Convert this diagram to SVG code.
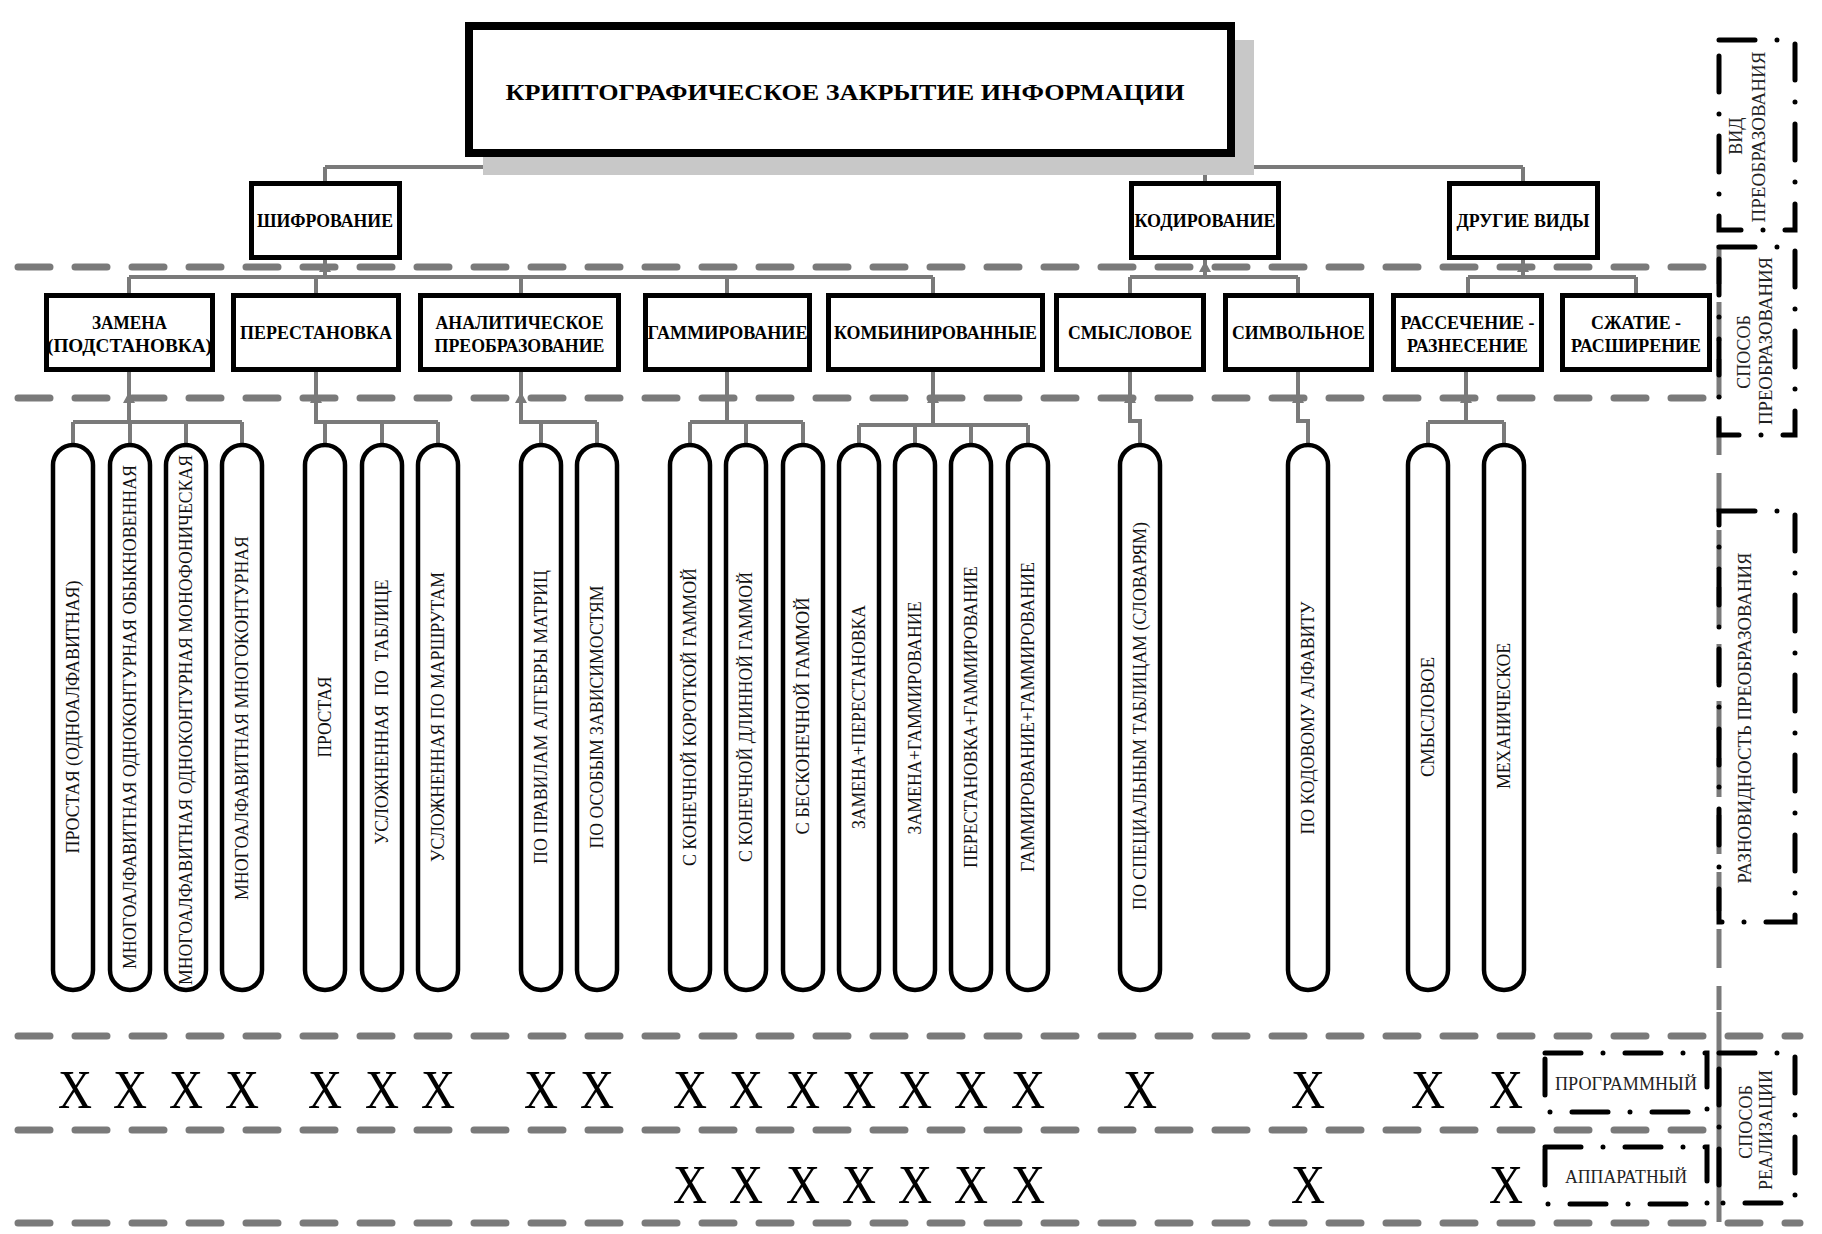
<svg xmlns="http://www.w3.org/2000/svg" width="1822" height="1234" viewBox="0 0 1822 1234">
<style>
.bg{fill:#fff}
.box{fill:#fff;stroke:#000;stroke-width:5}
.main{fill:#fff;stroke:#000;stroke-width:8}
.shadow{fill:#c8c8c8}
.pill{fill:#fff;stroke:#000;stroke-width:4.5}
.con{fill:none;stroke:#7a7a7a;stroke-width:4}
.sep{fill:none;stroke:#7a7a7a;stroke-width:7;stroke-linecap:round;stroke-dasharray:32 25}
.vsep{fill:none;stroke:#7a7a7a;stroke-width:5;stroke-dasharray:39 18}
.dd{fill:none;stroke:#000;stroke-width:5;stroke-linecap:round;stroke-dasharray:36 22 0 22}
.arr{fill:#7a7a7a}
.tb{font-family:"Liberation Serif","Times New Roman",serif;font-weight:bold;fill:#000;text-anchor:middle}
.tl{font-family:"Liberation Serif","Times New Roman",serif;font-size:19px;fill:#111;text-anchor:middle}
.tr{font-family:"Liberation Serif","Times New Roman",serif;font-size:18px;fill:#222;text-anchor:middle}
.tx{font-family:"Liberation Serif","Times New Roman",serif;font-size:54px;fill:#000;text-anchor:middle}
</style>
<rect class="bg" x="0" y="0" width="1822" height="1234"/>

<g id="separators">
<line class="sep" x1="18" y1="267" x2="1712" y2="267"/>
<line class="sep" x1="18" y1="398" x2="1712" y2="398"/>
<line class="sep" x1="18" y1="1036" x2="1800" y2="1036"/>
<line class="sep" x1="18" y1="1130" x2="1712" y2="1130"/>
<line class="sep" x1="18" y1="1223" x2="1800" y2="1223"/>
<line class="vsep" x1="1719" y1="245" x2="1719" y2="1010"/>
<line class="con" x1="1719" y1="1012" x2="1719" y2="1222" style="stroke-width:5"/>
</g>

<g id="connectors">
<path class="con" d="M850 157 V167 M325 167 H1523 M325 167 V181 M1205 167 V181 M1523 167 V181"/>
<path class="con" d="M325 260 V277 M129 277 H933 M129 277 V293 M316 277 V293 M521 277 V293 M727 277 V293 M933 277 V293"/>
<path class="con" d="M1205 260 V277 M1130 277 H1298 M1130 277 V293 M1298 277 V293"/>
<path class="con" d="M1523 260 V277 M1468 277 H1636 M1468 277 V293 M1636 277 V293"/>
<path class="con" d="M129 372 V422 M73 422 H242 M73 422 V445 M130 422 V445 M186 422 V445 M242 422 V445"/>
<path class="con" d="M316 372 V422 H438 M325 422 V445 M382 422 V445 M438 422 V445"/>
<path class="con" d="M521 372 V422 H597 M541 422 V445 M597 422 V445"/>
<path class="con" d="M727 372 V422 M690 422 H803 M690 422 V445 M746 422 V445 M803 422 V445"/>
<path class="con" d="M933 372 V425 M859 425 H1028 M859 425 V445 M915 425 V445 M971 425 V445 M1028 425 V445"/>
<path class="con" d="M1130 372 V421 H1140 V445"/>
<path class="con" d="M1298 372 V421 H1308 V445"/>
<path class="con" d="M1466 372 V422 M1428 422 H1504 M1428 422 V445 M1504 422 V445"/>
<polygon class="arr" points="319,272 325,261 331,272"/>
<polygon class="arr" points="1199,272 1205,261 1211,272"/>
<polygon class="arr" points="1517,272 1523,261 1529,272"/>
<polygon class="arr" points="123,403 129,392 135,403"/>
<polygon class="arr" points="310,403 316,392 322,403"/>
<polygon class="arr" points="515,403 521,392 527,403"/>
<polygon class="arr" points="927,403 933,392 939,403"/>
<polygon class="arr" points="1124,403 1130,392 1136,403"/>
<polygon class="arr" points="1292,403 1298,392 1304,403"/>
<polygon class="arr" points="1460,403 1466,392 1472,403"/>
</g>

<g id="root">
<rect class="shadow" x="483" y="40" width="771" height="135"/>
<rect class="main" x="469" y="26" width="762" height="127"/>
<text class="tb" x="845" y="100" font-size="24" textLength="679" lengthAdjust="spacingAndGlyphs">КРИПТОГРАФИЧЕСКОЕ ЗАКРЫТИЕ ИНФОРМАЦИИ</text>
</g>

<g id="shifrovanie"><rect class="box" x="251.5" y="183.5" width="148" height="74"/><text class="tb" x="325" y="227" font-size="19" textLength="136" lengthAdjust="spacingAndGlyphs">ШИФРОВАНИЕ</text></g>
<g id="kodirovanie"><rect class="box" x="1131.5" y="183.5" width="147" height="74"/><text class="tb" x="1205" y="227" font-size="19" textLength="141" lengthAdjust="spacingAndGlyphs">КОДИРОВАНИЕ</text></g>
<g id="drugie"><rect class="box" x="1449.5" y="183.5" width="148" height="74"/><text class="tb" x="1523" y="227" font-size="19" textLength="133" lengthAdjust="spacingAndGlyphs">ДРУГИЕ ВИДЫ</text></g>

<g id="zamena"><rect class="box" x="46.5" y="295.5" width="166" height="74"/><text class="tb" x="129.5" y="329" font-size="19" textLength="75" lengthAdjust="spacingAndGlyphs">ЗАМЕНА</text><text class="tb" x="129.5" y="352" font-size="19" textLength="165" lengthAdjust="spacingAndGlyphs">(ПОДСТАНОВКА)</text></g>
<g id="perestanovka"><rect class="box" x="233.5" y="295.5" width="165" height="74"/><text class="tb" x="316" y="339" font-size="19" textLength="152" lengthAdjust="spacingAndGlyphs">ПЕРЕСТАНОВКА</text></g>
<g id="analit"><rect class="box" x="420.5" y="295.5" width="198" height="74"/><text class="tb" x="519.5" y="329" font-size="19" textLength="168" lengthAdjust="spacingAndGlyphs">АНАЛИТИЧЕСКОЕ</text><text class="tb" x="519.5" y="352" font-size="19" textLength="170" lengthAdjust="spacingAndGlyphs">ПРЕОБРАЗОВАНИЕ</text></g>
<g id="gamm"><rect class="box" x="645.5" y="295.5" width="164" height="74"/><text class="tb" x="727.5" y="339" font-size="19" textLength="160" lengthAdjust="spacingAndGlyphs">ГАММИРОВАНИЕ</text></g>
<g id="komb"><rect class="box" x="828.5" y="295.5" width="214" height="74"/><text class="tb" x="935.5" y="339" font-size="19" textLength="203" lengthAdjust="spacingAndGlyphs">КОМБИНИРОВАННЫЕ</text></g>
<g id="smysl"><rect class="box" x="1056.5" y="295.5" width="147" height="74"/><text class="tb" x="1130" y="339" font-size="19" textLength="124" lengthAdjust="spacingAndGlyphs">СМЫСЛОВОЕ</text></g>
<g id="simv"><rect class="box" x="1225.5" y="295.5" width="146" height="74"/><text class="tb" x="1298.5" y="339" font-size="19" textLength="133" lengthAdjust="spacingAndGlyphs">СИМВОЛЬНОЕ</text></g>
<g id="rass"><rect class="box" x="1393.5" y="295.5" width="148" height="74"/><text class="tb" x="1467.5" y="329" font-size="19" textLength="134" lengthAdjust="spacingAndGlyphs">РАССЕЧЕНИЕ -</text><text class="tb" x="1467.5" y="352" font-size="19" textLength="121" lengthAdjust="spacingAndGlyphs">РАЗНЕСЕНИЕ</text></g>
<g id="szhat"><rect class="box" x="1562.5" y="295.5" width="147" height="74"/><text class="tb" x="1636" y="329" font-size="19" textLength="90" lengthAdjust="spacingAndGlyphs">СЖАТИЕ -</text><text class="tb" x="1636" y="352" font-size="19" textLength="130" lengthAdjust="spacingAndGlyphs">РАСШИРЕНИЕ</text></g>

<g id="leaf1"><rect class="pill" x="53" y="445" width="40" height="545" rx="20"/><text class="tl" transform="translate(79 717) rotate(-90)" textLength="273" lengthAdjust="spacingAndGlyphs">ПРОСТАЯ (ОДНОАЛФАВИТНАЯ)</text></g>
<g id="leaf2"><rect class="pill" x="110" y="445" width="40" height="545" rx="20"/><text class="tl" transform="translate(136 717) rotate(-90)" textLength="504" lengthAdjust="spacingAndGlyphs">МНОГОАЛФАВИТНАЯ ОДНОКОНТУРНАЯ ОБЫКНОВЕННАЯ</text></g>
<g id="leaf3"><rect class="pill" x="166" y="445" width="40" height="545" rx="20"/><text class="tl" transform="translate(192 720) rotate(-90)" textLength="530" lengthAdjust="spacingAndGlyphs">МНОГОАЛФАВИТНАЯ ОДНОКОНТУРНАЯ МОНОФОНИЧЕСКАЯ</text></g>
<g id="leaf4"><rect class="pill" x="222" y="445" width="40" height="545" rx="20"/><text class="tl" transform="translate(248 718) rotate(-90)" textLength="364" lengthAdjust="spacingAndGlyphs">МНОГОАЛФАВИТНАЯ МНОГОКОНТУРНАЯ</text></g>
<g id="leaf5"><rect class="pill" x="305" y="445" width="40" height="545" rx="20"/><text class="tl" transform="translate(331 717) rotate(-90)" textLength="81" lengthAdjust="spacingAndGlyphs">ПРОСТАЯ</text></g>
<g id="leaf6"><rect class="pill" x="362" y="445" width="40" height="545" rx="20"/><text class="tl" transform="translate(388 712) rotate(-90)" textLength="265" lengthAdjust="spacingAndGlyphs" style="white-space:pre">УСЛОЖНЕННАЯ  ПО  ТАБЛИЦЕ</text></g>
<g id="leaf7"><rect class="pill" x="418" y="445" width="40" height="545" rx="20"/><text class="tl" transform="translate(444 717) rotate(-90)" textLength="290" lengthAdjust="spacingAndGlyphs">УСЛОЖНЕННАЯ ПО МАРШРУТАМ</text></g>
<g id="leaf8"><rect class="pill" x="521" y="445" width="40" height="545" rx="20"/><text class="tl" transform="translate(547 717) rotate(-90)" textLength="294" lengthAdjust="spacingAndGlyphs">ПО ПРАВИЛАМ АЛГЕБРЫ МАТРИЦ</text></g>
<g id="leaf9"><rect class="pill" x="577" y="445" width="40" height="545" rx="20"/><text class="tl" transform="translate(603 717) rotate(-90)" textLength="263" lengthAdjust="spacingAndGlyphs">ПО ОСОБЫМ ЗАВИСИМОСТЯМ</text></g>
<g id="leaf10"><rect class="pill" x="670" y="445" width="40" height="545" rx="20"/><text class="tl" transform="translate(696 717) rotate(-90)" textLength="298" lengthAdjust="spacingAndGlyphs">С КОНЕЧНОЙ КОРОТКОЙ ГАММОЙ</text></g>
<g id="leaf11"><rect class="pill" x="726" y="445" width="40" height="545" rx="20"/><text class="tl" transform="translate(752 717) rotate(-90)" textLength="290" lengthAdjust="spacingAndGlyphs">С КОНЕЧНОЙ ДЛИННОЙ ГАММОЙ</text></g>
<g id="leaf12"><rect class="pill" x="783" y="445" width="40" height="545" rx="20"/><text class="tl" transform="translate(809 716) rotate(-90)" textLength="237" lengthAdjust="spacingAndGlyphs">С БЕСКОНЕЧНОЙ ГАММОЙ</text></g>
<g id="leaf13"><rect class="pill" x="839" y="445" width="40" height="545" rx="20"/><text class="tl" transform="translate(865 717) rotate(-90)" textLength="224" lengthAdjust="spacingAndGlyphs">ЗАМЕНА+ПЕРЕСТАНОВКА</text></g>
<g id="leaf14"><rect class="pill" x="895" y="445" width="40" height="545" rx="20"/><text class="tl" transform="translate(921 718) rotate(-90)" textLength="233" lengthAdjust="spacingAndGlyphs">ЗАМЕНА+ГАММИРОВАНИЕ</text></g>
<g id="leaf15"><rect class="pill" x="951" y="445" width="40" height="545" rx="20"/><text class="tl" transform="translate(977 717) rotate(-90)" textLength="302" lengthAdjust="spacingAndGlyphs">ПЕРЕСТАНОВКА+ГАММИРОВАНИЕ</text></g>
<g id="leaf16"><rect class="pill" x="1008" y="445" width="40" height="545" rx="20"/><text class="tl" transform="translate(1034 717) rotate(-90)" textLength="310" lengthAdjust="spacingAndGlyphs">ГАММИРОВАНИЕ+ГАММИРОВАНИЕ</text></g>
<g id="leaf17"><rect class="pill" x="1120" y="445" width="40" height="545" rx="20"/><text class="tl" transform="translate(1146 716) rotate(-90)" textLength="388" lengthAdjust="spacingAndGlyphs">ПО СПЕЦИАЛЬНЫМ ТАБЛИЦАМ (СЛОВАРЯМ)</text></g>
<g id="leaf18"><rect class="pill" x="1288" y="445" width="40" height="545" rx="20"/><text class="tl" transform="translate(1314 718) rotate(-90)" textLength="233" lengthAdjust="spacingAndGlyphs">ПО КОДОВОМУ АЛФАВИТУ</text></g>
<g id="leaf19"><rect class="pill" x="1408" y="445" width="40" height="545" rx="20"/><text class="tl" transform="translate(1434 717) rotate(-90)" textLength="120" lengthAdjust="spacingAndGlyphs">СМЫСЛОВОЕ</text></g>
<g id="leaf20"><rect class="pill" x="1484" y="445" width="40" height="545" rx="20"/><text class="tl" transform="translate(1510 716) rotate(-90)" textLength="146" lengthAdjust="spacingAndGlyphs">МЕХАНИЧЕСКОЕ</text></g>

<g id="marks-program">
<text class="tx" x="75" y="1108" textLength="34" lengthAdjust="spacingAndGlyphs">X</text><text class="tx" x="130" y="1108" textLength="34" lengthAdjust="spacingAndGlyphs">X</text><text class="tx" x="186" y="1108" textLength="34" lengthAdjust="spacingAndGlyphs">X</text><text class="tx" x="242" y="1108" textLength="34" lengthAdjust="spacingAndGlyphs">X</text>
<text class="tx" x="325" y="1108" textLength="34" lengthAdjust="spacingAndGlyphs">X</text><text class="tx" x="382" y="1108" textLength="34" lengthAdjust="spacingAndGlyphs">X</text><text class="tx" x="438" y="1108" textLength="34" lengthAdjust="spacingAndGlyphs">X</text>
<text class="tx" x="541" y="1108" textLength="34" lengthAdjust="spacingAndGlyphs">X</text><text class="tx" x="597" y="1108" textLength="34" lengthAdjust="spacingAndGlyphs">X</text>
<text class="tx" x="690" y="1108" textLength="34" lengthAdjust="spacingAndGlyphs">X</text><text class="tx" x="746" y="1108" textLength="34" lengthAdjust="spacingAndGlyphs">X</text><text class="tx" x="803" y="1108" textLength="34" lengthAdjust="spacingAndGlyphs">X</text>
<text class="tx" x="859" y="1108" textLength="34" lengthAdjust="spacingAndGlyphs">X</text><text class="tx" x="915" y="1108" textLength="34" lengthAdjust="spacingAndGlyphs">X</text><text class="tx" x="971" y="1108" textLength="34" lengthAdjust="spacingAndGlyphs">X</text><text class="tx" x="1028" y="1108" textLength="34" lengthAdjust="spacingAndGlyphs">X</text>
<text class="tx" x="1140" y="1108" textLength="34" lengthAdjust="spacingAndGlyphs">X</text><text class="tx" x="1308" y="1108" textLength="34" lengthAdjust="spacingAndGlyphs">X</text><text class="tx" x="1428" y="1108" textLength="34" lengthAdjust="spacingAndGlyphs">X</text><text class="tx" x="1506" y="1108" textLength="34" lengthAdjust="spacingAndGlyphs">X</text>
</g>
<g id="marks-hardware">
<text class="tx" x="690" y="1203" textLength="34" lengthAdjust="spacingAndGlyphs">X</text><text class="tx" x="746" y="1203" textLength="34" lengthAdjust="spacingAndGlyphs">X</text><text class="tx" x="803" y="1203" textLength="34" lengthAdjust="spacingAndGlyphs">X</text>
<text class="tx" x="859" y="1203" textLength="34" lengthAdjust="spacingAndGlyphs">X</text><text class="tx" x="915" y="1203" textLength="34" lengthAdjust="spacingAndGlyphs">X</text><text class="tx" x="971" y="1203" textLength="34" lengthAdjust="spacingAndGlyphs">X</text><text class="tx" x="1028" y="1203" textLength="34" lengthAdjust="spacingAndGlyphs">X</text>
<text class="tx" x="1308" y="1203" textLength="34" lengthAdjust="spacingAndGlyphs">X</text><text class="tx" x="1506" y="1203" textLength="34" lengthAdjust="spacingAndGlyphs">X</text>
</g>

<g id="vid">
<rect class="dd" x="1719" y="40" width="76" height="190"/>
<text class="tr" transform="translate(1742 136) rotate(-90)">ВИД</text>
<text class="tr" transform="translate(1765 137) rotate(-90)" textLength="171" lengthAdjust="spacingAndGlyphs">ПРЕОБРАЗОВАНИЯ</text>
</g>
<g id="sposob-preobr">
<rect class="dd" x="1719" y="247" width="76" height="188"/>
<text class="tr" transform="translate(1750 352) rotate(-90)">СПОСОБ</text>
<text class="tr" transform="translate(1772 341) rotate(-90)" textLength="168" lengthAdjust="spacingAndGlyphs">ПРЕОБРАЗОВАНИЯ</text>
</g>
<g id="raznovid">
<rect class="dd" x="1719" y="511" width="76" height="411"/>
<text class="tr" transform="translate(1751 718) rotate(-90)" textLength="331" lengthAdjust="spacingAndGlyphs">РАЗНОВИДНОСТЬ ПРЕОБРАЗОВАНИЯ</text>
</g>
<g id="sposob-real">
<rect class="dd" x="1719" y="1053" width="76" height="150"/>
<text class="tr" transform="translate(1752 1122) rotate(-90)">СПОСОБ</text>
<text class="tr" transform="translate(1772 1130) rotate(-90)" textLength="120" lengthAdjust="spacingAndGlyphs">РЕАЛИЗАЦИИ</text>
</g>
<g id="programmny">
<rect class="dd" x="1545" y="1053" width="162" height="59"/>
<text class="tr" x="1626" y="1090" textLength="142" lengthAdjust="spacingAndGlyphs">ПРОГРАММНЫЙ</text>
</g>
<g id="apparatny">
<rect class="dd" x="1545" y="1147" width="162" height="57"/>
<text class="tr" x="1626" y="1183" textLength="122" lengthAdjust="spacingAndGlyphs">АППАРАТНЫЙ</text>
</g>
</svg>
